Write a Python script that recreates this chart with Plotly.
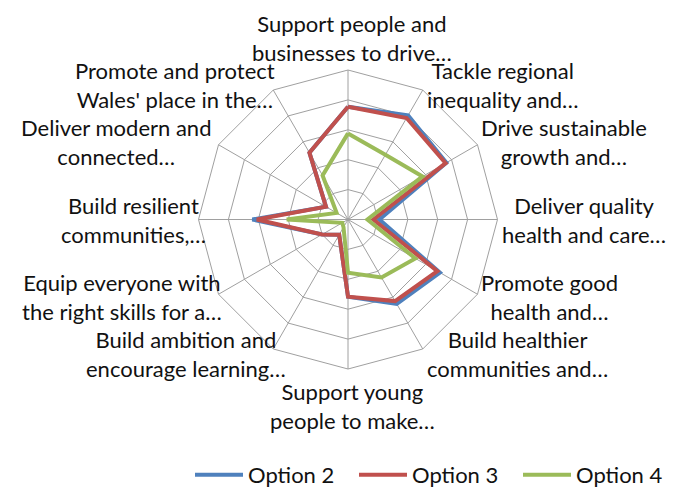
import math
import plotly.graph_objects as go

categories = [
    "Support people and<br>businesses to drive…",
    "Tackle regional<br>inequality and…",
    "Drive sustainable<br>growth and…",
    "Deliver quality<br>health and care…",
    "Promote good<br>health and…",
    "Build healthier<br>communities and…",
    "Support young<br>people to make…",
    "Build ambition and<br>encourage learning…",
    "Equip everyone with<br>the right skills for a…",
    "Build resilient<br>communities,…",
    "Deliver modern and<br>connected…",
    "Promote and protect<br>Wales' place in the…",
]

option2 = [3.77, 4.02, 3.80, 1.05, 3.55, 3.26, 2.58, 0.59, 1.00, 3.20, 0.85, 2.58]
option3 = [3.77, 3.92, 3.77, 0.85, 3.45, 3.15, 2.58, 0.59, 1.00, 3.05, 0.85, 2.58]
option4 = [2.88, 2.50, 2.88, 0.65, 2.60, 2.24, 1.78, 0.30, 0.22, 2.05, 0.44, 1.70]

series = [
    ("Option 2", option2, "#4F81BD"),
    ("Option 3", option3, "#C0504D"),
    ("Option 4", option4, "#9BBB59"),
]

FONT = "Lato"
TEXT = "#111111"
GRID = "#a0a0a0"
W, H = 674, 493
OFF = 8                      # page body margin of the browser
CX, CY, R = 348.0, 219.5, 149.5   # desired chart centre / radius on screen


def to_paper(X, Y):
    return (X - OFF) / W, 1 - (Y - OFF) / H


x0, y0 = to_paper(CX - R, CY + R)
x1, y1 = to_paper(CX + R, CY - R)

fig = go.Figure()
for name, vals, color in series:
    fig.add_trace(go.Scatterpolar(
        r=vals + vals[:1],
        theta=categories + categories[:1],
        mode="lines",
        name=name,
        line=dict(color=color, width=4),
    ))

# category labels placed just outside each spoke
left_nudge = {7: 14, 8: 4.5, 9: 8.5, 10: -6.5, 11: 3}
annotations = []
n = len(categories)
for i, lab in enumerate(categories):
    th = math.radians(90 - 360 / n * i)
    vx, vy = CX + R * math.cos(th), CY - R * math.sin(th)
    if i == 0:
        X, Y, xa = CX + 4, vy - 32, "center"
    elif i == n // 2:
        X, Y, xa = CX + 4, vy + 37, "center"
    elif i < n // 2:
        X, Y, xa = vx + 2, vy - 6 * math.sin(th), "left"
    else:
        X, Y, xa = vx + left_nudge.get(i, 3) + 1, vy - 6 * math.sin(th), "right"
    px, py = to_paper(X, Y)
    annotations.append(dict(
        x=px, y=py, xref="paper", yref="paper", text=lab, showarrow=False,
        xanchor=xa, yanchor="middle", align="center",
        font=dict(family=FONT, size=22, color=TEXT),
    ))

lx, ly = to_paper(190, 475)

fig.update_layout(
    width=W, height=H,
    margin=dict(l=0, r=0, t=0, b=0),
    paper_bgcolor="white",
    plot_bgcolor="white",
    font=dict(family=FONT, size=22, color=TEXT),
    polar=dict(
        domain=dict(x=[x0, x1], y=[y0, y1]),
        bgcolor="white",
        gridshape="linear",
        radialaxis=dict(
            range=[0, 5], dtick=1, showticklabels=False, ticks="",
            showline=False, gridcolor=GRID, gridwidth=1,
        ),
        angularaxis=dict(
            rotation=90, direction="clockwise",
            showline=True, linecolor=GRID, linewidth=1,
            gridcolor=GRID, gridwidth=1,
            ticks="", showticklabels=False,
        ),
    ),
    annotations=annotations,
    legend=dict(
        orientation="h", x=lx, y=ly, xanchor="left", yanchor="middle",
        font=dict(family=FONT, size=22, color=TEXT),
        itemwidth=48,
        entrywidth=101, entrywidthmode="pixels",
        bgcolor="rgba(0,0,0,0)",
    ),
)

fig.write_html("out.html")
